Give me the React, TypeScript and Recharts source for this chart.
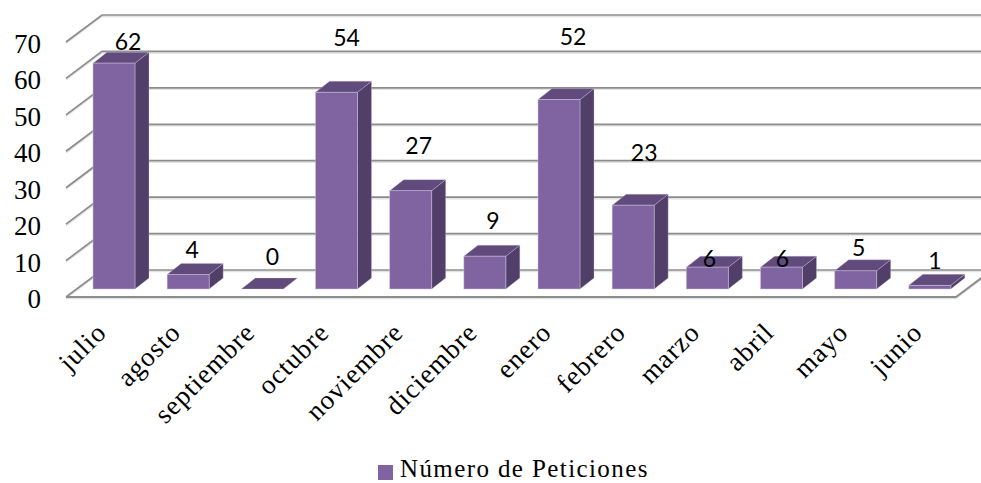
import { Bar, BarChart, CartesianGrid, LabelList, Legend, XAxis, YAxis } from "recharts"

const months = ["julio", "agosto", "septiembre", "octubre", "noviembre", "diciembre", "enero", "febrero", "marzo", "abril", "mayo", "junio"]
const peticiones = [62, 4, 0, 54, 27, 9, 52, 23, 6, 6, 5, 1]
const yTicks = [0, 10, 20, 30, 40, 50, 60, 70]

const data = months.map((mes, i) => ({ mes, peticiones: peticiones[i] }))

// fake 3d: wall depth and how far the bars sit inside the floor
const WALL_X = 36
const WALL_Y = 27
const BAR_X = 11
const BAR_Y = -8
const SIDE_X = 14
const SIDE_Y = 11

// the labels in the original float wherever they like, so they get nudged one by one
const labelNudgeX = [25, 15, 21, 21, 19, 19, 25, 22, 13, 12, 14, 16]
const labelLift = [30, 33, 41, 63, 54, 44, 72, 61, 17, 17, 32, 33]

const serif = "'Liberation Serif', serif"

function GridLine(props: any) {
    const { x1, x2, y1 } = props
    const path = `M${x1} ${y1} L${x1 + WALL_X} ${y1 - WALL_Y} L${x2 + WALL_X} ${y1 - WALL_Y}`
    const isFloor = Math.abs(y1 - 297) < 1
    return (
        <g key={props.key}>
            <path d={path} transform="translate(0 1.5)" fill="none" stroke="#e2e2e2" strokeWidth={1.5} />
            <path d={path} fill="none" stroke="#8c8c8c" strokeWidth={1.7} />
            {isFloor && (
                <>
                    <path d={`M${x1} ${y1} L${x2} ${y1} L${x2 + WALL_X} ${y1 - WALL_Y}`} transform="translate(0 1.5)" fill="none" stroke="#e2e2e2" strokeWidth={1.5} />
                    <path d={`M${x1} ${y1} L${x2} ${y1} L${x2 + WALL_X} ${y1 - WALL_Y}`} fill="none" stroke="#8c8c8c" strokeWidth={2} />
                </>
            )}
        </g>
    )
}

function Bar3D(props: any) {
    const { x, y, width, height } = props
    const l = x + BAR_X
    const r = l + width
    const t = y + BAR_Y
    const b = t + height
    return (
        <g>
            <path d={`M${r} ${t} L${r + SIDE_X} ${t - SIDE_Y} L${r + SIDE_X} ${b - SIDE_Y} L${r} ${b} Z`} fill="#513f6a" stroke="#cfc7dc" strokeOpacity={0.45} strokeWidth={0.7} />
            <path d={`M${l} ${t} L${l + SIDE_X} ${t - SIDE_Y} L${r + SIDE_X} ${t - SIDE_Y} L${r} ${t} Z`} fill="#604b7c" stroke="#cfc7dc" strokeOpacity={0.45} strokeWidth={0.7} />
            {height > 0 && <rect x={l} y={t} width={width} height={height} fill="#8064a2" stroke="#cfc7dc" strokeOpacity={0.6} strokeWidth={0.8} />}
        </g>
    )
}

function ValueLabel(props: any) {
    const { x, y, width, value, index } = props
    return (
        <text
            x={x + width / 2 + labelNudgeX[index]}
            y={y - labelLift[index]}
            textAnchor="middle"
            dominantBaseline="central"
            fontFamily="Lato, sans-serif"
            fontSize={23}
            fill="#000"
        >
            {value}
        </text>
    )
}

function MonthTick(props: any) {
    const { x, y, payload } = props
    return (
        <text
            x={x + 5}
            y={y + 29}
            textAnchor="end"
            transform={`rotate(-45 ${x + 5} ${y + 29})`}
            fontFamily={serif}
            fontSize={27}
            letterSpacing={1}
            fill="#000"
        >
            {payload.value}
        </text>
    )
}

function ValueTick(props: any) {
    const { x, y, payload } = props
    return (
        <text x={x} y={y + 11} textAnchor="end" fontFamily={serif} fontSize={27} fill="#000">
            {payload.value}
        </text>
    )
}

function LegendRow(props: any) {
    const item = props.payload?.[0]
    return (
        <div style={{ display: "flex", alignItems: "flex-start", lineHeight: "22px", fontFamily: serif, fontSize: 25, letterSpacing: 1.4, color: "#000" }}>
            <span style={{ width: 15, height: 15, marginTop: 7, marginRight: 7, background: item?.color }} />
            <span>{item?.value}</span>
        </div>
    )
}

export default function App() {
    return (
        <div style={{ position: "absolute", left: 0, top: 0, width: 981, height: 483, overflow: "hidden", background: "#fff" }}>
            <BarChart width={981} height={483} data={data} barSize={42} margin={{ top: 42, right: 25, bottom: 126, left: 0 }}>
                <CartesianGrid vertical={false} horizontal={GridLine} />
                <XAxis dataKey="mes" height={60} interval={0} axisLine={false} tickLine={false} tick={MonthTick} />
                <YAxis width={66} domain={[0, 70]} ticks={yTicks} axisLine={false} tickLine={false} tickMargin={19} tick={ValueTick} />
                <Legend
                    layout="horizontal"
                    verticalAlign="middle"
                    content={LegendRow}
                    wrapperStyle={{ left: 378, top: 458, width: 300, height: 22 }}
                />
                <Bar dataKey="peticiones" name="Número de Peticiones" fill="#8064a2" shape={Bar3D} isAnimationActive={false}>
                    <LabelList dataKey="peticiones" content={ValueLabel} />
                </Bar>
            </BarChart>
        </div>
    )
}
